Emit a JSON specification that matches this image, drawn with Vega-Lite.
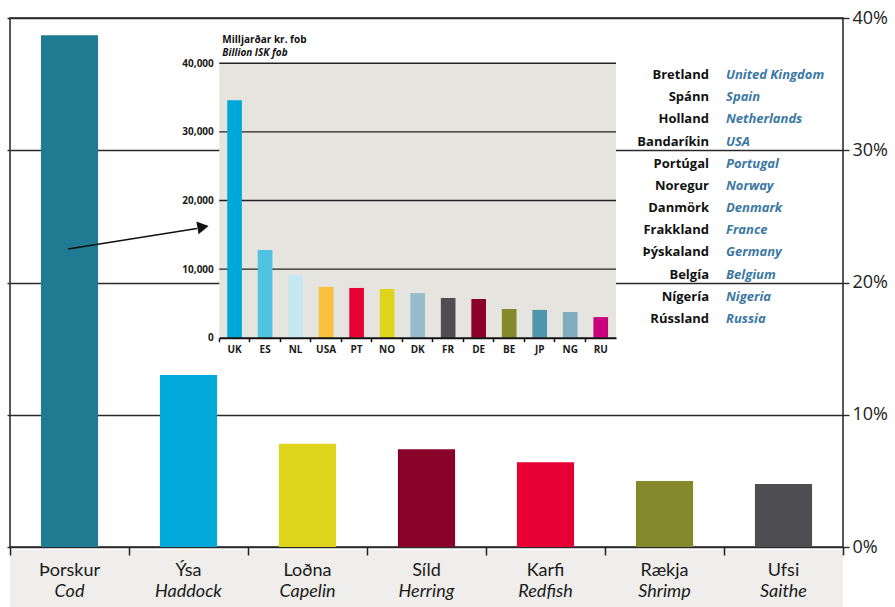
{
  "$schema": "https://vega.github.io/schema/vega-lite/v6.json",
  "width": 833,
  "height": 529,
  "autosize": {"type": "none"},
  "padding": {"left": 10, "top": 18, "right": 52, "bottom": 60},
  "background": "#ffffff",
  "config": {
    "view": {"stroke": "#222222", "strokeWidth": 1.5},
    "font": "Open Sans",
    "axis": {"title": null}
  },
  "datasets": {
    "fish": [
      {"is": "Þorskur", "en": "Cod", "pct": 0.387},
      {"is": "Ýsa", "en": "Haddock", "pct": 0.130},
      {"is": "Loðna", "en": "Capelin", "pct": 0.078},
      {"is": "Síld", "en": "Herring", "pct": 0.074},
      {"is": "Karfi", "en": "Redfish", "pct": 0.064},
      {"is": "Rækja", "en": "Shrimp", "pct": 0.050},
      {"is": "Ufsi", "en": "Saithe", "pct": 0.0476}
    ],
    "markets": [
      {"code": "UK", "is": "Bretland", "en": "United Kingdom", "value": 34600},
      {"code": "ES", "is": "Spánn", "en": "Spain", "value": 12800},
      {"code": "NL", "is": "Holland", "en": "Netherlands", "value": 9150},
      {"code": "USA", "is": "Bandaríkin", "en": "USA", "value": 7400},
      {"code": "PT", "is": "Portúgal", "en": "Portugal", "value": 7250},
      {"code": "NO", "is": "Noregur", "en": "Norway", "value": 7100},
      {"code": "DK", "is": "Danmörk", "en": "Denmark", "value": 6500},
      {"code": "FR", "is": "Frakkland", "en": "France", "value": 5800},
      {"code": "DE", "is": "Þýskaland", "en": "Germany", "value": 5650},
      {"code": "BE", "is": "Belgía", "en": "Belgium", "value": 4200},
      {"code": "JP", "is": null, "en": null, "value": 4050},
      {"code": "NG", "is": "Nígería", "en": "Nigeria", "value": 3750},
      {"code": "RU", "is": "Rússland", "en": "Russia", "value": 3000}
    ],
    "gridValues": [{"v": 10000}, {"v": 20000}, {"v": 30000}, {"v": 40000}],
    "insetPanel": [{"lo": 0, "hi": 40000}],
    "insetTitle": [{"is": "Milljarðar kr. fob", "en": "Billion ISK fob"}],
    "arrowLine": [{"x": 0.487, "y": 0.2253}, {"x": 1.571, "y": 0.2408}],
    "arrowHead": [{"x": 1.622, "y": 0.2420}]
  },
  "resolve": {"scale": {"x": "independent", "y": "independent", "color": "independent"}},
  "layer": [
    {
      "data": {"name": "fish"},
      "mark": {"type": "rect", "fill": "#efeeec", "yOffset": 3, "y2Offset": 60},
      "encoding": {
        "x": {"field": "is", "type": "nominal", "sort": null,
          "scale": {"type": "band", "domain": ["Þorskur", "Ýsa", "Loðna", "Síld", "Karfi", "Rækja", "Ufsi"], "paddingInner": 0, "paddingOuter": 0},
          "axis": {"orient": "bottom", "bandPosition": 0, "labels": false, "domain": false, "ticks": true, "tickSize": 8, "tickColor": "#222222", "tickWidth": 1.5, "grid": false, "zindex": 1, "title": null}},
        "y": {"datum": 0, "type": "quantitative", "scale": {"domain": [0, 0.4], "nice": false},
          "axis": {"orient": "right", "values": [0, 0.1, 0.2, 0.3, 0.4], "format": ".0%", "grid": true, "gridColor": "#2a2a2a", "gridWidth": 1.4, "domain": false, "ticks": true, "tickSize": 6, "tickColor": "#2a2a2a", "tickWidth": 1.4, "labelFont": "Open Sans", "labelFontSize": 18, "labelColor": "#222222", "labelPadding": 3, "title": null}},
        "y2": {"datum": 0}
      }
    },
    {
      "data": {"name": "fish"},
      "mark": {"type": "bar", "width": {"band": 0.48}},
      "encoding": {
        "x": {"field": "is", "type": "nominal", "sort": null,
          "scale": {"type": "band", "domain": ["Þorskur", "Ýsa", "Loðna", "Síld", "Karfi", "Rækja", "Ufsi"], "paddingInner": 0, "paddingOuter": 0}, "axis": null},
        "y": {"field": "pct", "type": "quantitative", "scale": {"domain": [0, 0.4], "nice": false}, "axis": null},
        "color": {"field": "is", "type": "nominal", "legend": null,
          "scale": {"domain": ["Þorskur", "Ýsa", "Loðna", "Síld", "Karfi", "Rækja", "Ufsi"], "range": ["#1f7b92", "#00a9da", "#ded41c", "#890028", "#e70033", "#84892c", "#4e4d52"]}}
      }
    },
    {
      "data": {"name": "fish"},
      "mark": {"type": "text", "dy": 29, "baseline": "alphabetic", "align": "center", "font": "Lato", "fontSize": 18, "color": "#1a1a1a"},
      "encoding": {
        "x": {"field": "is", "type": "nominal", "sort": null,
          "scale": {"type": "band", "domain": ["Þorskur", "Ýsa", "Loðna", "Síld", "Karfi", "Rækja", "Ufsi"], "paddingInner": 0, "paddingOuter": 0}, "axis": null},
        "y": {"datum": 0, "type": "quantitative", "scale": {"domain": [0, 0.4], "nice": false},
          "axis": {"orient": "left", "values": [0, 0.1, 0.2, 0.3, 0.4], "labels": false, "domain": false, "grid": false, "ticks": true, "tickSize": 3, "tickColor": "#2a2a2a", "tickWidth": 1.4, "title": null}},
        "text": {"field": "is"}
      }
    },
    {
      "data": {"name": "fish"},
      "mark": {"type": "text", "dy": 50, "baseline": "alphabetic", "align": "center", "font": "Lato", "fontStyle": "italic", "fontSize": 18, "color": "#1a1a1a"},
      "encoding": {
        "x": {"field": "is", "type": "nominal", "sort": null,
          "scale": {"type": "band", "domain": ["Þorskur", "Ýsa", "Loðna", "Síld", "Karfi", "Rækja", "Ufsi"], "paddingInner": 0, "paddingOuter": 0},
          "axis": {"orient": "bottom", "bandPosition": 1, "values": ["Ufsi"], "labels": false, "domain": false, "ticks": true, "tickSize": 8, "tickColor": "#222222", "tickWidth": 1.5, "grid": false, "zindex": 1, "title": null}},
        "y": {"datum": 0, "type": "quantitative", "scale": {"domain": [0, 0.4], "nice": false}, "axis": null},
        "text": {"field": "en"}
      }
    },
    {
      "data": {"name": "markets"},
      "transform": [{"filter": "datum.is != null"}],
      "mark": {"type": "text", "align": "right", "baseline": "middle", "dx": -15, "font": "Open Sans", "fontWeight": "bold", "fontSize": 13, "color": "#111111"},
      "encoding": {
        "x": {"datum": "Ufsi", "type": "nominal", "bandPosition": 0,
          "scale": {"type": "band", "domain": ["Þorskur", "Ýsa", "Loðna", "Síld", "Karfi", "Rækja", "Ufsi"], "paddingInner": 0, "paddingOuter": 0}, "axis": null},
        "y": {"field": "code", "type": "nominal",
          "scale": {"type": "point", "domain": ["UK", "ES", "NL", "USA", "PT", "NO", "DK", "FR", "DE", "BE", "NG", "RU"], "range": [57, 301], "padding": 0}, "axis": null},
        "text": {"field": "is"}
      }
    },
    {
      "data": {"name": "markets"},
      "transform": [{"filter": "datum.is != null"}],
      "mark": {"type": "text", "align": "left", "baseline": "middle", "dx": 2, "font": "Open Sans", "fontWeight": "bold", "fontStyle": "italic", "fontSize": 13, "color": "#3a78a3"},
      "encoding": {
        "x": {"datum": "Ufsi", "type": "nominal", "bandPosition": 0,
          "scale": {"type": "band", "domain": ["Þorskur", "Ýsa", "Loðna", "Síld", "Karfi", "Rækja", "Ufsi"], "paddingInner": 0, "paddingOuter": 0}, "axis": null},
        "y": {"field": "code", "type": "nominal",
          "scale": {"type": "point", "domain": ["UK", "ES", "NL", "USA", "PT", "NO", "DK", "FR", "DE", "BE", "NG", "RU"], "range": [57, 301], "padding": 0}, "axis": null},
        "text": {"field": "en"}
      }
    },
    {
      "data": {"name": "insetPanel"},
      "mark": {"type": "rect", "fill": "#e5e4df"},
      "encoding": {
        "x": {"datum": 0, "type": "quantitative", "scale": {"domain": [0, 1], "range": [209.3, 606], "nice": false, "zero": false}, "axis": null},
        "x2": {"datum": 1},
        "y": {"field": "lo", "type": "quantitative", "scale": {"domain": [0, 40000], "range": [319.7, 45.3], "nice": false, "zero": false},
          "axis": {"orient": "left", "offset": -209.3, "values": [0, 10000, 20000, 30000, 40000], "format": ",d", "domain": false, "ticks": false, "grid": false, "labelFont": "Open Sans", "labelFontSize": 10, "labelFontWeight": "bold", "labelColor": "#1a1a1a", "labelPadding": 6, "title": null, "zindex": 1}},
        "y2": {"field": "hi"}
      }
    },
    {
      "data": {"name": "gridValues"},
      "mark": {"type": "rule", "color": "#222222", "strokeWidth": 1.4},
      "encoding": {
        "x": {"datum": 0, "type": "quantitative", "scale": {"domain": [0, 1], "range": [209.3, 606], "nice": false, "zero": false}, "axis": null},
        "x2": {"datum": 1},
        "y": {"field": "v", "type": "quantitative", "scale": {"domain": [0, 40000], "range": [319.7, 45.3], "nice": false, "zero": false}, "axis": null}
      }
    },
    {
      "data": {"name": "markets"},
      "mark": {"type": "bar", "width": {"band": 0.48}},
      "encoding": {
        "x": {"field": "code", "type": "nominal", "sort": null,
          "scale": {"type": "band", "domain": ["UK", "ES", "NL", "USA", "PT", "NO", "DK", "FR", "DE", "BE", "JP", "NG", "RU"], "range": [209.3, 606], "paddingInner": 0, "paddingOuter": 0},
          "axis": {"orient": "bottom", "offset": -209.3, "bandPosition": 0, "domain": true, "domainColor": "#111111", "domainWidth": 2, "ticks": true, "tickSize": 4, "tickColor": "#111111", "tickWidth": 1.5, "labels": true, "labelAngle": 0, "labelFont": "Open Sans", "labelFontSize": 10, "labelFontWeight": "bold", "labelColor": "#1a1a1a", "labelPadding": 3, "grid": false, "zindex": 1, "title": null}},
        "y": {"field": "value", "type": "quantitative",
          "scale": {"domain": [0, 40000], "range": [319.7, 45.3], "nice": false, "zero": false}, "axis": null},
        "color": {"field": "code", "type": "nominal", "legend": null,
          "scale": {"domain": ["UK", "ES", "NL", "USA", "PT", "NO", "DK", "FR", "DE", "BE", "JP", "NG", "RU"],
            "range": ["#00a8d9", "#50c2e2", "#c7e7f3", "#f7c13b", "#e70033", "#ded41c", "#98bccb", "#4e4d52", "#890028", "#84892c", "#5195ae", "#80aec0", "#c8007d"]}}
      }
    },
    {
      "data": {"name": "insetTitle"},
      "mark": {"type": "text", "align": "left", "baseline": "alphabetic", "dx": 3, "dy": -20, "font": "Open Sans", "fontWeight": "bold", "fontSize": 10, "color": "#111111"},
      "encoding": {
        "x": {"datum": 0, "type": "quantitative", "scale": {"domain": [0, 1], "range": [209.3, 606], "nice": false, "zero": false}, "axis": null},
        "y": {"datum": 40000, "type": "quantitative", "scale": {"domain": [0, 40000], "range": [319.7, 45.3], "nice": false, "zero": false}, "axis": null},
        "text": {"field": "is"}
      }
    },
    {
      "data": {"name": "insetTitle"},
      "mark": {"type": "text", "align": "left", "baseline": "alphabetic", "dx": 3, "dy": -7, "font": "Open Sans", "fontWeight": "bold", "fontStyle": "italic", "fontSize": 10, "color": "#111111"},
      "encoding": {
        "x": {"datum": 0, "type": "quantitative", "scale": {"domain": [0, 1], "range": [209.3, 606], "nice": false, "zero": false}, "axis": null},
        "y": {"datum": 40000, "type": "quantitative", "scale": {"domain": [0, 40000], "range": [319.7, 45.3], "nice": false, "zero": false}, "axis": null},
        "text": {"field": "en"}
      }
    },
    {
      "data": {"name": "arrowLine"},
      "mark": {"type": "line", "color": "#111111", "strokeWidth": 1.5},
      "encoding": {
        "x": {"field": "x", "type": "quantitative", "scale": {"domain": [0, 7], "nice": false, "zero": false}, "axis": null},
        "y": {"field": "y", "type": "quantitative", "scale": {"domain": [0, 0.4], "nice": false, "zero": false}, "axis": null}
      }
    },
    {
      "data": {"name": "arrowHead"},
      "mark": {"type": "point", "shape": "triangle-right", "filled": true, "size": 170, "angle": -9.7, "color": "#111111", "opacity": 1},
      "encoding": {
        "x": {"field": "x", "type": "quantitative", "scale": {"domain": [0, 7], "nice": false, "zero": false}, "axis": null},
        "y": {"field": "y", "type": "quantitative", "scale": {"domain": [0, 0.4], "nice": false, "zero": false}, "axis": null}
      }
    }
  ]
}
